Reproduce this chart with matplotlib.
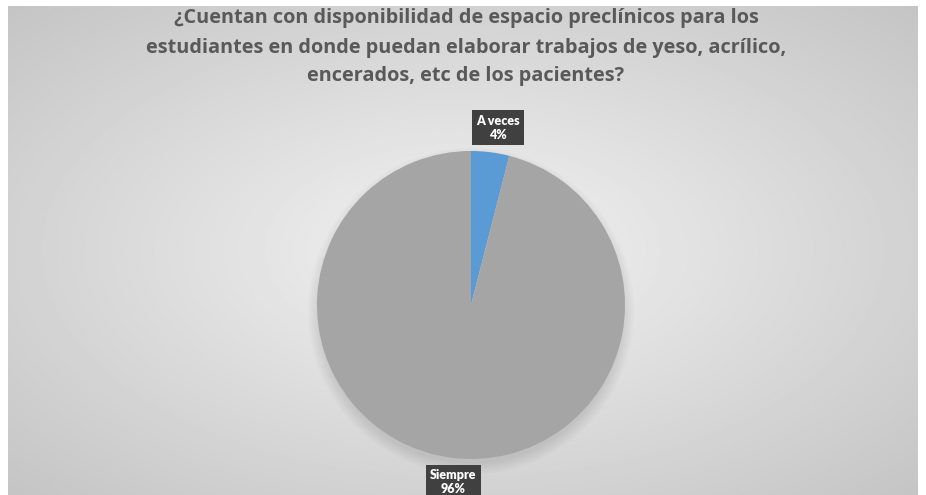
import numpy as np
import matplotlib
matplotlib.use("Agg")
import matplotlib.pyplot as plt
from matplotlib.patches import Circle

categories = ["A veces", "Siempre"]
percentages = [4, 96]
colors = ["#5B9BD5", "#A5A5A5"]

title = ("¿Cuentan con disponibilidad de espacio preclínicos para los\n"
         "estudiantes en donde puedan elaborar trabajos de yeso, acrílico,\n"
         "encerados, etc de los pacientes?")

W, H = 926, 495
fig = plt.figure(figsize=(W / 100, H / 100), dpi=100)
fig.patch.set_facecolor("white")

# background panel with a radial grey gradient
bg = fig.add_axes([8 / W, 0, (918 - 8) / W, (495 - 6) / H])
bg.set_axis_off()
yy, xx = np.mgrid[-1:1:300j, -1:1:560j]
rr = np.sqrt(xx ** 2 + yy ** 2) / np.sqrt(2)
shade = 0.95 - 0.18 * rr
bg.imshow(shade, cmap="gray", vmin=0, vmax=1, aspect="auto",
          extent=[0, 1, 0, 1], interpolation="bilinear")
bg.set_xlim(0, 1)
bg.set_ylim(0, 1)

fig.text(0.5 + 3 / W, 1 - 47.5 / H, title, ha="center", va="center",
         fontsize=14.3, fontweight="bold", color="#595959",
         family="Open Sans", linespacing=1.6)

# pie
cx, cy, r = 471, H - 305, 154
ax = fig.add_axes([(cx - r) / W, (cy - r) / H, 2 * r / W, 2 * r / H])
ax.set_axis_off()

# soft shadow under the pie
for i in range(8):
    ax.add_patch(Circle((0.0, -0.04), 0.99 + 0.01 * i, color="black",
                        alpha=0.012, lw=0, zorder=0, clip_on=False))

wedges, _ = ax.pie(percentages, colors=colors, startangle=90,
                   counterclock=False, radius=1.0,
                   wedgeprops=dict(linewidth=0), frame=False)
ax.set_xlim(-1.0, 1.0)
ax.set_ylim(-1.0, 1.0)

for w, name, pct in zip(wedges, categories, percentages):
    w.set_zorder(2)
    mid = np.deg2rad((w.theta1 + w.theta2) / 2)
    d = 1.16
    ax.text(d * np.cos(mid) + 0.03, d * np.sin(mid), f"{name}\n{pct}%",
            ha="center", va="center", fontsize=9, fontweight="heavy",
            color="white", family="Lato", linespacing=1.2,
            bbox=dict(boxstyle="square,pad=0.35", fc="#404040", ec="none"),
            clip_on=False, zorder=5)

fig.savefig("out.png", dpi=100)
